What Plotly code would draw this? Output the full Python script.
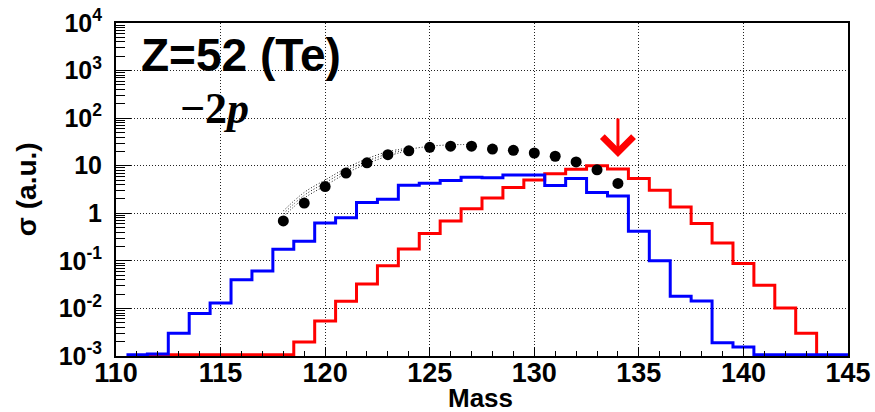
import math
import plotly.graph_objects as go

# ---------------- data ----------------
FLOOR = 1.06e-3  # empty bins drawn on the lower frame

blue_first_edge = 110.5
blue_vals = [FLOOR, 1.1e-3, 0.003, 0.0078, 0.013, 0.040, 0.061, 0.175, 0.258,
             0.625, 0.81, 1.68, 1.97, 3.87, 4.3, 4.9, 5.7, 5.6, 6.4, 6.4, 3.85,
             5.4, 2.75, 2.3, 0.42, 0.1, 0.018, 0.0143, 0.0019, 0.00155,
             FLOOR, FLOOR, FLOOR, FLOOR, FLOOR]          # bins 111 .. 145

red_first_edge = 111.5
red_vals = [FLOOR, FLOOR, FLOOR, FLOOR, FLOOR, FLOOR, FLOOR, 0.00197, 0.00544,
            0.0141, 0.0326, 0.079, 0.177, 0.374, 0.69, 1.25, 2.1, 3.47, 5.0,
            6.8, 8.4, 10.0, 8.5, 5.4, 3.04, 1.36, 0.61, 0.237, 0.0875, 0.0306,
            0.0102, 0.003]                                # bins 112 .. 143

dot_mass = [118, 119, 120, 121, 122, 123, 124, 125, 126, 127, 128, 129, 130,
            131, 132, 133, 134]
dot_vals = [0.69, 1.64, 3.65, 7.0, 11.5, 17.1, 20.6, 24.3, 25.7, 25.7, 22.4,
            21.1, 18.5, 15.8, 12.0, 8.2, 4.25]

fit_mass = [118, 119, 120, 121, 122, 123, 124, 125, 126, 127]
fit_mid = [0.975, 2.39, 4.37, 7.82, 12.4, 17.8, 22.1, 25.6, 27.5, 27.9]
band_mass = [118, 119, 120, 121, 122, 123, 124]
band_hi = [1.12, 2.75, 5.0, 8.9, 14.0, 19.8, 23.5]
band_lo = [0.85, 2.08, 3.8, 6.9, 11.0, 16.0, 20.8]

arrow_mass = 134
arrow_tip = 15.3

x_ticks = [110, 115, 120, 125, 130, 135, 140, 145]
y_ticks = [1e-3, 1e-2, 1e-1, 1, 10, 1e2, 1e3, 1e4]
y_ticktext = ["10<sup>-3</sup>", "10<sup>-2</sup>", "10<sup>-1</sup>", "1", "10",
              "10<sup>2</sup>", "10<sup>3</sup>", "10<sup>4</sup>"]
y_minor = [m * 10.0 ** k for k in range(-3, 4) for m in range(2, 10)]

# ---------------- build step outlines from bin contents ----------------
blue_x = [blue_first_edge + i for i in range(len(blue_vals) + 1)]
blue_y = blue_vals + [blue_vals[-1]]
red_x = [red_first_edge + i for i in range(len(red_vals) + 1)]
red_y = red_vals + [FLOOR * 0.9]

fig = go.Figure()
fig.add_trace(go.Scatter(x=red_x, y=red_y, mode="lines", line_shape="hv",
                         line=dict(color="#ff0000", width=3), hoverinfo="skip"))
fig.add_trace(go.Scatter(x=blue_x, y=blue_y, mode="lines", line_shape="hv",
                         line=dict(color="#0000ff", width=3), hoverinfo="skip"))
for yy in (band_hi, band_lo):
    fig.add_trace(go.Scatter(x=band_mass, y=yy, mode="lines", line_shape="spline",
                             line=dict(color="#111", width=1, dash="1px,2px"),
                             hoverinfo="skip"))
fig.add_trace(go.Scatter(x=fit_mass, y=fit_mid, mode="lines", line_shape="spline",
                         line=dict(color="#111", width=1, dash="1px,2px"),
                         hoverinfo="skip"))
fig.add_trace(go.Scatter(x=dot_mass, y=dot_vals, mode="markers",
                         marker=dict(color="black", size=11, symbol="circle"),
                         hoverinfo="skip"))

fig.add_annotation(x=arrow_mass, y=math.log10(arrow_tip), xref="x", yref="y",
                   ax=0, ay=-40, text="", showarrow=True, arrowhead=4,
                   arrowsize=2.0, arrowwidth=3, arrowcolor="#ff0000")

fig.add_annotation(xref="paper", yref="paper", x=0.031, y=0.904,
                   xanchor="left", yanchor="middle", showarrow=False,
                   text="<b>Z=52 (Te)</b>",
                   font=dict(family="Liberation Sans, Arial", size=46, color="black"))
fig.add_annotation(xref="paper", yref="paper", x=0.085, y=0.743,
                   xanchor="left", yanchor="middle", showarrow=False,
                   text="<b>−2</b><b><i>p</i></b>",
                   font=dict(family="Liberation Serif, Times New Roman", size=44,
                             color="black"))
fig.add_annotation(xref="paper", yref="paper", x=0.498, y=-0.125,
                   xanchor="center", yanchor="middle", showarrow=False,
                   text="<b>Mass</b>",
                   font=dict(family="Liberation Sans, Arial", size=26, color="black"))
fig.add_annotation(xref="paper", yref="paper", x=-0.122, y=0.5,
                   xanchor="center", yanchor="middle", showarrow=False,
                   textangle=-90, text="<b>σ (a.u.)</b>",
                   font=dict(family="Liberation Sans, Arial", size=28, color="black"))

tickfont = dict(family="Liberation Sans, Arial", size=27, color="black")
fig.update_layout(
    width=875, height=412,
    margin=dict(l=116, r=27, t=23, b=56, pad=0),
    paper_bgcolor="white", plot_bgcolor="white",
    showlegend=False,
    xaxis=dict(range=[110, 145], tickmode="array", tickvals=x_ticks,
               ticktext=["<b>%d</b>" % v for v in x_ticks],
               tickfont=tickfont, ticks="inside", ticklen=9, tickwidth=1,
               tickcolor="black", automargin=False, ticklabelstandoff=-8,
               minor=dict(ticks="inside", dtick=1, ticklen=5, tickcolor="black",
                          showgrid=False),
               showgrid=True, gridcolor="#222", griddash="1px,2px", gridwidth=1,
               showline=True, linecolor="black", linewidth=2, mirror=True,
               zeroline=False),
    yaxis=dict(type="log", range=[-3, 4], tickmode="array", tickvals=y_ticks,
               ticktext=["<b>%s</b>" % t for t in y_ticktext],
               tickfont=dict(family="Liberation Sans, Arial", size=25, color="black"),
               ticks="inside", ticklen=15, tickwidth=1, tickcolor="black",
               automargin=False, ticklabelstandoff=7,
               minor=dict(ticks="inside", tickmode="array", tickvals=y_minor,
                          ticklen=9, tickcolor="black", showgrid=False),
               showgrid=True, gridcolor="#222", griddash="1px,2px", gridwidth=1,
               showline=True, linecolor="black", linewidth=2, mirror=True,
               zeroline=False),
)

fig.write_html("out.html", config={"displayModeBar": False},
               post_script="document.body.style.margin='0px';")
